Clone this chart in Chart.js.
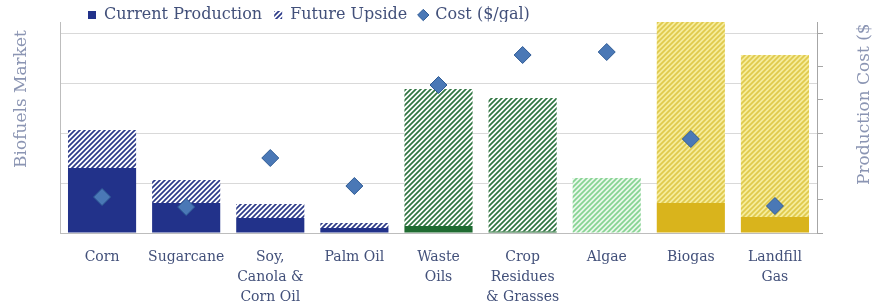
<!DOCTYPE html>
<html><head><meta charset="utf-8">
<script src="https://cdn.jsdelivr.net/npm/chart.js@4.4.1/dist/chart.umd.min.js"></script>
<style>html,body{margin:0;padding:0;background:#fff;}#wrap{width:883px;height:307px;position:relative;}</style>
</head><body><div id="wrap"><canvas id="c"></canvas></div>
<script>
// ---- data ----
const categories = ['Corn','Sugarcane',['Soy,','Canola &','Corn Oil'],'Palm Oil',['Waste','Oils'],['Crop','Residues','& Grasses'],'Algae','Biogas',['Landfill','Gas']];
const currentProduction = [1.30,0.60,0.30,0.10,0.14,0.03,0,0.60,0.32];
const futureUpside = [0.76,0.46,0.28,0.10,2.74,2.67,1.10,3.62,3.24];
const costPerGal = [1.08,0.78,2.25,1.41,4.44,5.34,5.43,2.82,0.81];
const leftTicks = [0,1,2,3,4];
const rightTicks = [0,1,2,3,4,5,6];
const seriesNames = ['Current Production','Future Upside','Cost ($/gal)'];
const axisTitleLeft = 'Biofuels Market';
const axisTitleRight = 'Production Cost ($/gal)';

// ---- styles ----
function hatch(fg,bg){
  const s=5, c=document.createElement('canvas'); c.width=s; c.height=s;
  const x=c.getContext('2d'); x.fillStyle=bg; x.fillRect(0,0,s,s);
  x.strokeStyle=fg; x.lineWidth=1.7; x.lineCap='square';
  x.beginPath(); x.moveTo(-1,s+1); x.lineTo(s+1,-1); x.moveTo(-1,1); x.lineTo(1,-1); x.moveTo(s-1,s+1); x.lineTo(s+1,s-1); x.stroke();
  return x.createPattern(c,'repeat');
}
const navy='#22328a', green='#1f6b31', lgreen='#7fcf8c', gold='#d9b41c';
const solidColors=[navy,navy,navy,navy,green,green,lgreen,gold,gold];
const hN=hatch('#2c3a88','#ffffff'), hG=hatch('#2f7440','#ffffff'), hL=hatch('#86d392','#e9f7eb'), hY=hatch('#e0c94c','#f5ec9c');
const hatchColors=[hN,hN,hN,hN,hG,hG,hL,hY,hY];

const txt='#42507a', ttl='#8b95b3', gridC='#d9d9d9', axisC='#bdbdbd';
const serif='"DejaVu Serif", "Liberation Serif", serif';

const shiftLegend={id:'shiftLegend', afterLayout(chart){ const l=chart.legend; if(l){ l.left+=16; l.right+=16; l.top-=5; } }};
const axisTitles={id:'axisTitles', afterDraw(chart){
  const ctx=chart.ctx, a=chart.chartArea; ctx.save();
  ctx.beginPath(); ctx.rect(0,a.top+3,chart.width,chart.height); ctx.clip();
  ctx.font='17px '+serif; ctx.fillStyle=ttl; ctx.textBaseline='middle'; ctx.textAlign='left';
  ctx.save(); ctx.translate(a.left-38, a.bottom-65); ctx.rotate(-Math.PI/2); ctx.fillText(axisTitleLeft,0,0); ctx.restore();
  ctx.save(); ctx.translate(a.right+48, a.bottom-48); ctx.rotate(-Math.PI/2); ctx.fillText(axisTitleRight,0,0); ctx.restore();
  ctx.restore();
}};

new Chart(document.getElementById('c'),{
  data:{
    labels:categories,
    datasets:[
      {type:'bar',label:seriesNames[0],data:currentProduction,backgroundColor:solidColors,yAxisID:'y',stack:'s',order:2,barPercentage:0.81,categoryPercentage:1},
      {type:'bar',label:seriesNames[1],data:futureUpside,backgroundColor:hatchColors,yAxisID:'y',stack:'s',order:2,barPercentage:0.81,categoryPercentage:1},
      {type:'line',label:seriesNames[2],data:costPerGal,yAxisID:'y2',showLine:false,pointStyle:'rectRot',pointRadius:8.5,pointHoverRadius:8.5,pointBackgroundColor:'#4a78b6',pointBorderColor:'#2f5b95',pointBorderWidth:1,order:0}
    ]
  },
  options:{
    responsive:true, maintainAspectRatio:false, animation:false,
    layout:{padding:{left:60,right:60,top:0,bottom:-6}},
    plugins:{
      tooltip:{enabled:false},
      legend:{position:'top',align:'start',maxHeight:22,
        labels:{usePointStyle:true,boxWidth:8,boxHeight:8,padding:12,color:txt,font:{family:serif,size:16},
          generateLabels(chart){
            const items=Chart.defaults.plugins.legend.labels.generateLabels(chart).sort((p,q)=>p.datasetIndex-q.datasetIndex);
            const styles=['rect','rect','rectRot'];
            items.forEach(it=>{ it.pointStyle=styles[it.datasetIndex]; if(it.datasetIndex<2) it.lineWidth=0; });
            return items;
          }}}
    },
    scales:{
      x:{stacked:true,grid:{display:false},border:{color:axisC},
        ticks:{color:txt,font:{family:serif,size:14,lineHeight:'20px'},padding:6,maxRotation:0,autoSkip:false}},
      y:{position:'left',stacked:true,min:0,max:4.22,
        afterBuildTicks(s){ s.ticks=leftTicks.map(v=>({value:v})); },
        ticks:{display:false},grid:{color:gridC,drawTicks:false},border:{color:axisC}},
      y2:{position:'right',min:0,max:6.33,
        afterBuildTicks(s){ s.ticks=rightTicks.map(v=>({value:v})); },
        ticks:{display:false},grid:{drawOnChartArea:false,drawTicks:true,tickLength:6,color:'#a6a6a6'},border:{color:'#a6a6a6'}}
    }
  },
  plugins:[shiftLegend,axisTitles]
});
</script></body></html>
